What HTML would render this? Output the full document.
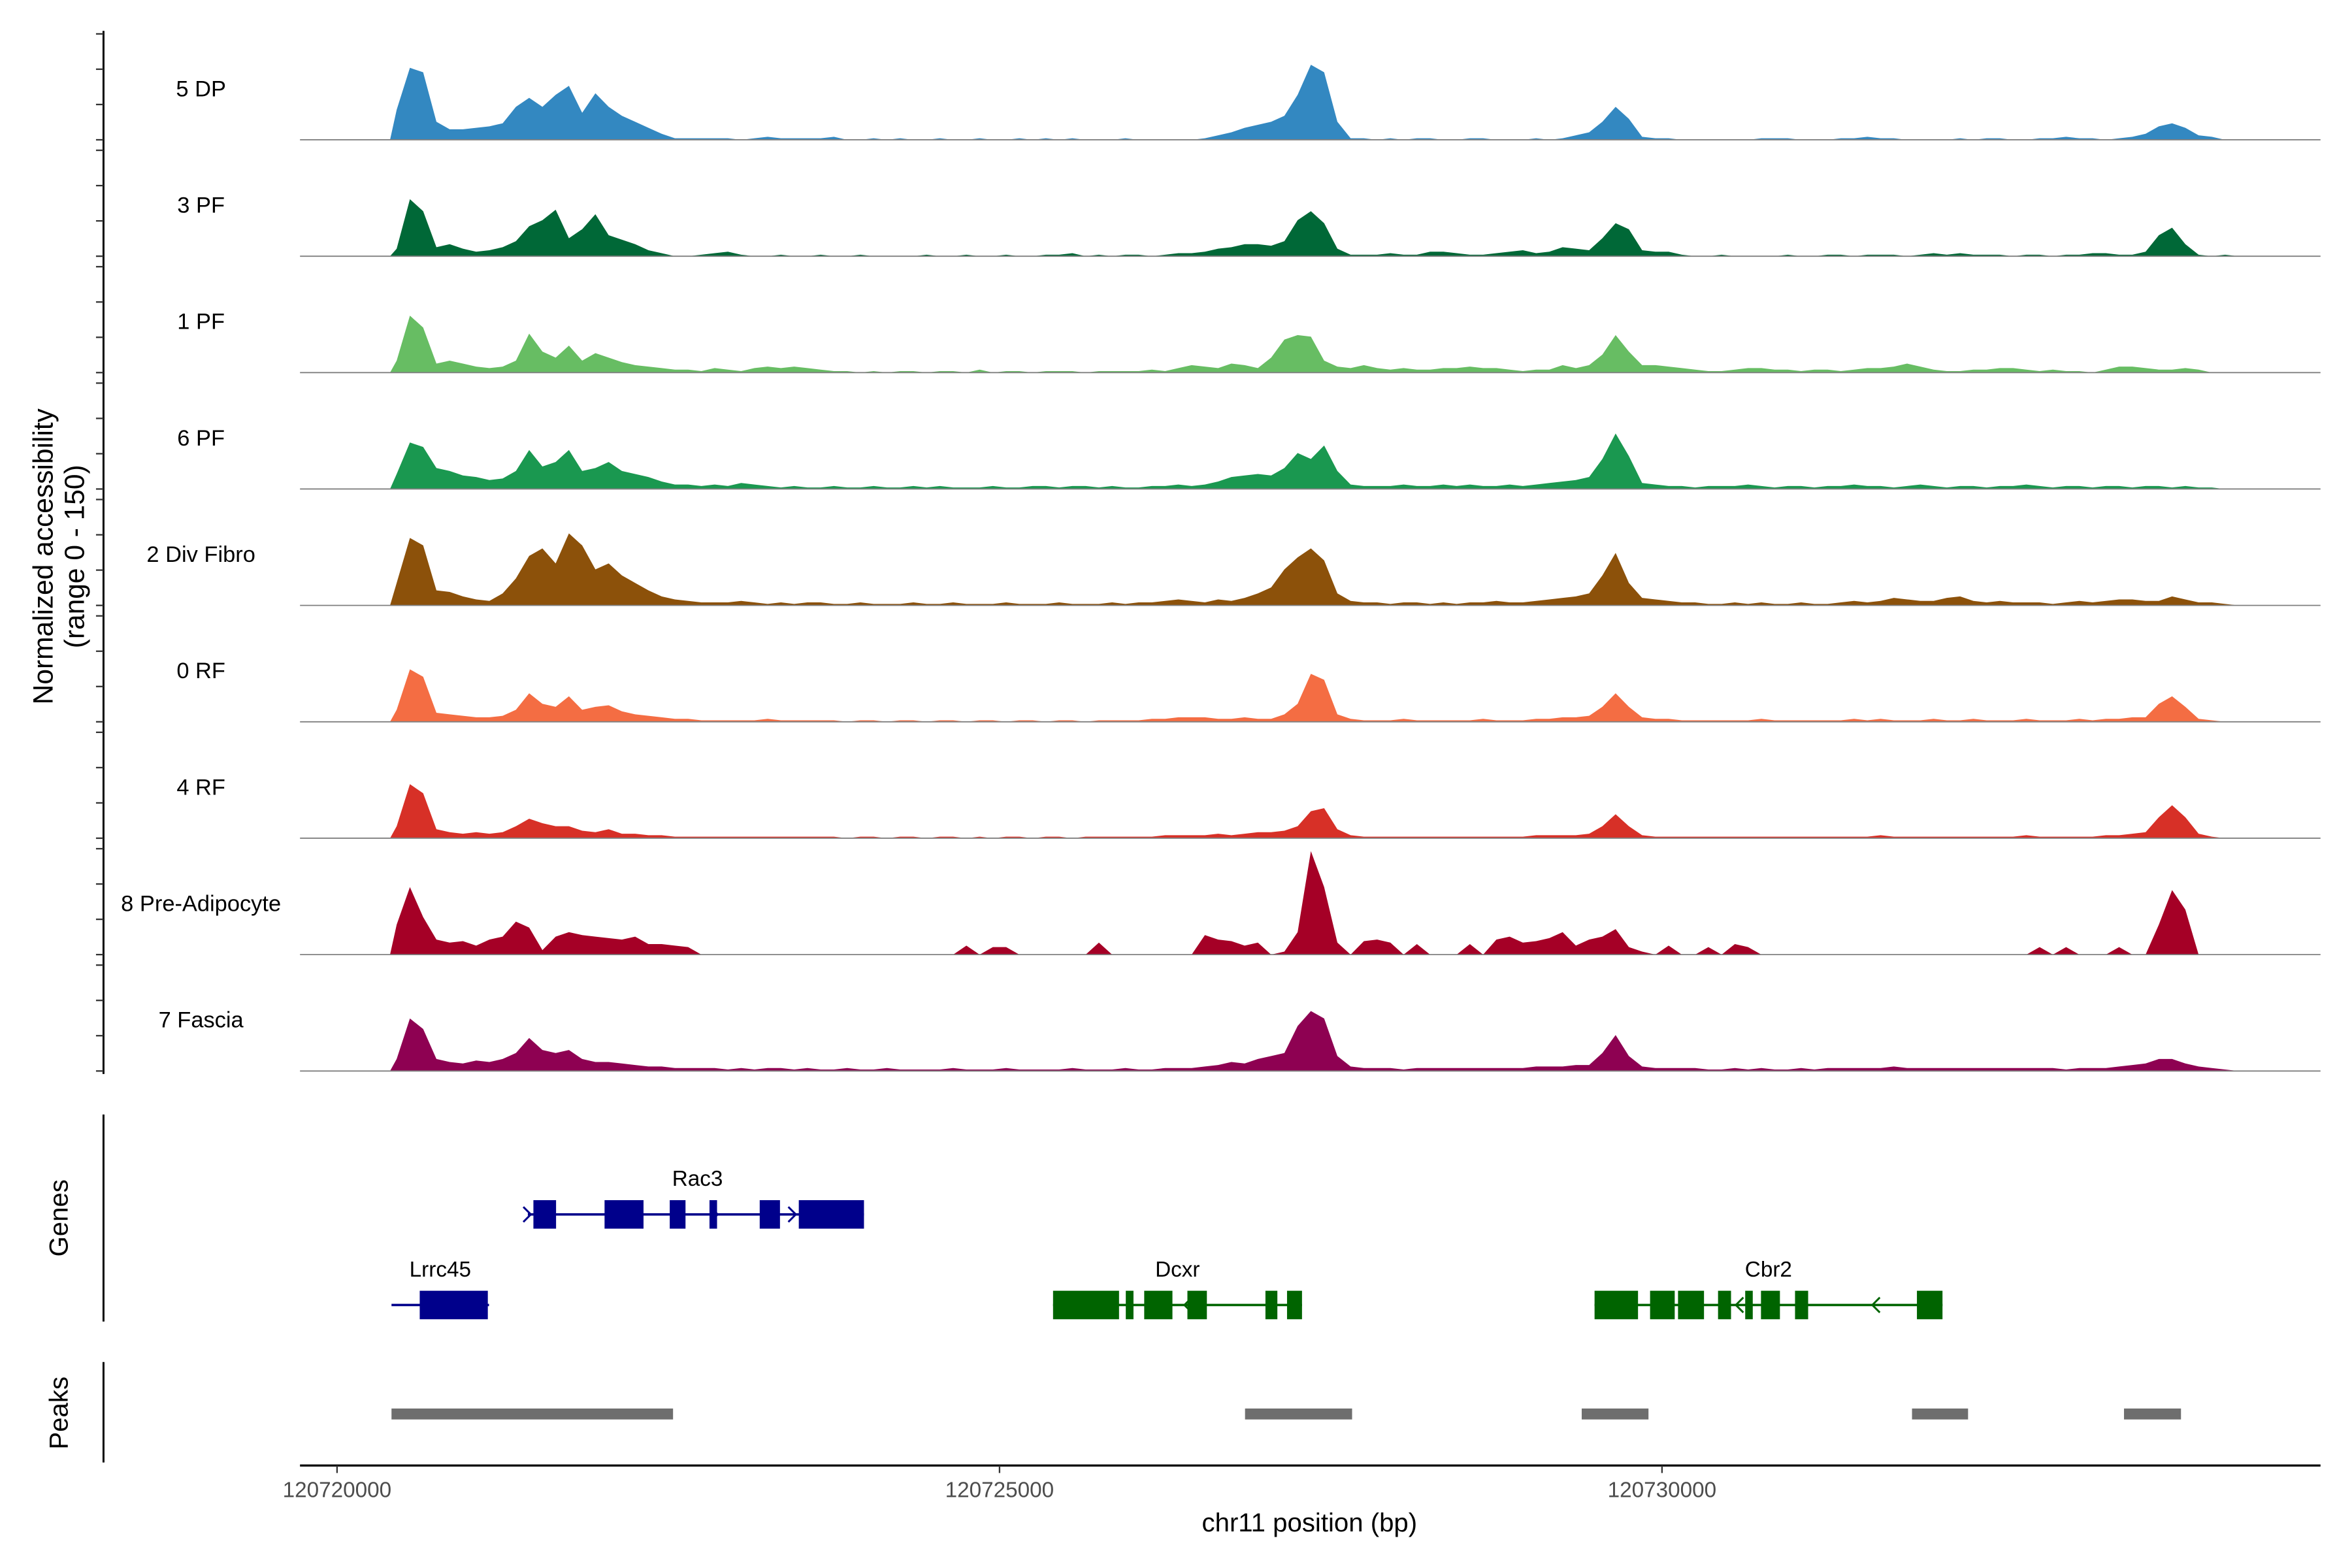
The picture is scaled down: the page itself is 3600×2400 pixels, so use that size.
<!DOCTYPE html>
<html><head><meta charset="utf-8"><title>Coverage plot</title>
<style>html,body{margin:0;padding:0;background:#fff;}svg{display:block;}</style></head>
<body>
<svg id="chart" xmlns="http://www.w3.org/2000/svg" width="3600" height="2400" viewBox="0 0 1568 1045.33" preserveAspectRatio="none" font-family="'Liberation Sans', sans-serif">
<rect width="1568" height="1046" fill="#fff"/>
<g id="tracks"></g>
<g id="yaxis"></g>
<text transform="translate(35,371) rotate(-90)" text-anchor="middle" font-size="18.5" fill="#000">Normalized accessibility</text>
<text transform="translate(56,371) rotate(-90)" text-anchor="middle" font-size="18.5" fill="#000">(range 0 - 150)</text>
<g id="genes"></g>
<line x1="69" y1="743" x2="69" y2="881" stroke="#000" stroke-width="1.3"/>
<text transform="translate(45,812) rotate(-90)" text-anchor="middle" font-size="17.5">Genes</text>
<g id="peaks"></g>
<line x1="69" y1="908" x2="69" y2="975" stroke="#000" stroke-width="1.3"/>
<text transform="translate(45,942) rotate(-90)" text-anchor="middle" font-size="17.5">Peaks</text>
<g id="xaxis"></g>
<text x="873" y="1021" text-anchor="middle" font-size="17.5">chr11 position (bp)</text>
</svg>
<script>
const NS = 'http://www.w3.org/2000/svg';
const binStart = 120720400;
const binSize = 100;
const trackNames = ['5 DP','3 PF','1 PF','6 PF','2 Div Fibro','0 RF','4 RF','8 Pre-Adipocyte','7 Fascia'];
const trackColors = ['#3388c1','#006837','#67bd63','#1a9850','#8c510a','#f46d43','#d73027','#a50026','#8e0152'];
const cov5DP = [20,48,45,12,7,7,8,9,11,22, 28,22,30,36,18,31,22,16,12,8, 4,1,1,1,1,1,0,1,2,1, 1,1,1,2,0,0,1,0,1,0, 0,1,0,0,1,0,0,1,0,1, 0,1,0,0,0,1,0,0,0,0, 0,1,3,5,8,10,12,16,30,50, 45,12,1,1,0,1,0,1,1,0, 0,1,1,0,0,0,1,0,1,3, 5,12,22,14,2,1,1,0,0,0, 0,0,0,1,1,1,0,0,0,1, 1,2,1,1,0,0,0,0,1,0, 1,1,0,0,1,1,2,1,1,0, 1,2,4,9,11,8,3,2,0,0];
const cov3PF = [5,38,30,6,8,5,3,4,6,10, 20,24,31,12,18,28,14,11,8,4, 2,0,0,1,2,3,1,0,0,1, 0,0,1,0,0,1,0,0,0,0, 1,0,0,1,0,0,1,0,0,1, 1,2,0,1,0,1,1,0,1,2, 2,3,5,6,8,8,7,10,24,30, 22,5,1,1,1,2,1,1,3,3, 2,1,1,2,3,4,2,3,6,5, 4,12,22,18,4,3,3,1,0,0, 1,0,0,0,0,1,0,0,1,1, 0,1,1,1,0,1,2,1,2,1, 1,1,0,1,1,0,1,1,2,2, 1,1,3,14,19,8,1,0,1,0];
const cov1PF = [8,38,30,6,8,6,4,3,4,8, 26,14,10,18,8,13,10,7,5,4, 3,2,2,1,3,2,1,3,4,3, 4,3,2,1,1,0,1,0,1,1, 0,1,1,0,2,0,1,1,0,1, 1,1,0,1,1,1,1,2,1,3, 5,4,3,6,5,3,10,22,25,24, 8,4,3,5,3,2,3,2,2,3, 3,4,3,3,2,1,2,2,5,3, 5,12,25,14,5,5,4,3,2,1, 1,2,3,3,2,2,1,2,2,1, 2,3,3,4,6,4,2,1,1,2, 2,3,3,2,1,2,1,1,0,2, 4,4,3,2,2,3,2,0,0,0];
const cov6PF = [10,31,28,14,12,9,8,6,7,12, 26,15,18,26,12,14,18,12,10,8, 5,3,3,2,3,2,4,3,2,1, 2,1,1,2,1,1,2,1,1,2, 1,2,1,1,1,2,1,1,2,2, 1,2,2,1,2,1,1,2,2,3, 2,3,5,8,9,10,9,14,24,20, 29,12,3,2,2,2,3,2,2,3, 2,3,2,2,3,2,3,4,5,6, 8,20,37,22,4,3,2,2,1,2, 2,2,3,2,1,2,2,1,2,2, 3,2,2,1,2,3,2,1,2,2, 1,2,2,3,2,1,2,2,1,2, 2,1,2,2,1,2,1,1,0,0];
const cov2Div = [15,45,40,10,9,6,4,3,8,18, 33,38,28,48,40,24,28,20,15,10, 6,4,3,2,2,2,3,2,1,2, 1,2,2,1,1,2,1,1,1,2, 1,1,2,1,1,1,2,1,1,1, 2,1,1,1,2,1,2,2,3,4, 3,2,4,3,5,8,12,24,32,38, 30,8,3,2,2,1,2,2,1,2, 1,2,2,3,2,2,3,4,5,6, 8,20,35,15,5,4,3,2,2,1, 1,2,1,2,1,1,2,1,1,2, 3,2,3,5,4,3,3,5,6,3, 2,3,2,2,2,1,2,3,2,3, 4,4,3,3,6,4,2,2,1,0];
const cov0RF = [8,35,30,6,5,4,3,3,4,8, 19,12,10,17,8,10,11,7,5,4, 3,2,2,1,1,1,1,1,2,1, 1,1,1,1,0,1,1,0,1,1, 0,1,1,0,1,1,0,1,1,0, 1,1,0,1,1,1,1,2,2,3, 3,3,2,2,3,2,2,5,12,32, 28,5,2,1,1,1,2,1,1,1, 1,1,2,1,1,1,2,2,3,3, 4,10,19,10,3,2,2,1,1,1, 1,1,1,2,1,1,1,1,1,1, 2,1,2,1,1,1,2,1,1,2, 1,1,1,2,1,1,1,2,1,2, 2,3,3,12,17,10,2,1,0,0];
const cov4RF = [8,36,30,6,4,3,4,3,4,8, 13,10,8,8,5,4,6,3,3,2, 2,1,1,1,1,1,1,1,1,1, 1,1,1,1,0,1,1,0,1,1, 0,1,1,0,1,0,1,1,0,1, 1,0,1,1,1,1,1,1,2,2, 2,2,3,2,3,4,4,5,8,18, 20,6,2,1,1,1,1,1,1,1, 1,1,1,1,1,1,2,2,2,2, 3,8,16,8,2,1,1,1,1,1, 1,1,1,1,1,1,1,1,1,1, 1,1,2,1,1,1,1,1,1,1, 1,1,1,2,1,1,1,1,1,2, 2,3,4,14,22,14,3,1,0,0];
const cov8Pre = [20,45,25,10,8,9,6,10,12,22, 18,3,12,15,13,12,11,10,12,7, 7,6,5,0,0,0,0,0,0,0, 0,0,0,0,0,0,0,0,0,0, 0,0,0,6,0,5,5,0,0,0, 0,0,0,8,0,0,0,0,0,0, 0,13,10,9,6,8,0,2,15,69, 45,8,0,9,10,8,0,7,0,0, 0,7,0,10,12,8,9,11,15,6, 10,12,17,5,2,0,6,0,0,5, 0,7,5,0,0,0,0,0,0,0, 0,0,0,0,0,0,0,0,0,0, 0,0,0,0,5,0,5,0,0,0, 5,0,0,20,43,30,0,0,0,0];
const cov7Fascia = [8,35,28,8,6,5,7,6,8,12, 22,14,12,14,8,6,6,5,4,3, 3,2,2,2,2,1,2,1,2,2, 1,2,1,1,2,1,1,2,1,1, 1,1,2,1,1,1,2,1,1,1, 1,2,1,1,1,2,1,1,2,2, 2,3,4,6,5,8,10,12,30,40, 35,10,3,2,2,2,1,2,2,2, 2,2,2,2,2,2,3,3,3,4, 4,12,24,10,3,2,2,2,2,1, 1,2,1,2,1,1,2,1,2,2, 2,2,2,3,2,2,2,2,2,2, 2,2,2,2,2,2,1,2,2,2, 3,4,5,8,8,5,3,2,1,0];
const coverage = [cov5DP,cov3PF,cov1PF,cov6PF,cov2Div,cov0RF,cov4RF,cov8Pre,cov7Fascia];
const xTicks = [120720000,120725000,120730000];
const rac3Exons = [[120721482,120721653],[120722019,120722313],[120722511,120722630],[120722811,120722868],[120723190,120723343],[120723485,120723977]];
const lrrc45Exons = [[120720624,120721138]];
const dcxrExons = [[120725404,120725902],[120725953,120726011],[120726092,120726305],[120726418,120726565],[120727007,120727097],[120727170,120727283]];
const cbr2Exons = [[120729491,120729819],[120729910,120730096],[120730121,120730317],[120730423,120730521],[120730628,120730685],[120730747,120730890],[120731004,120731103],[120731924,120732117]];
const peakStarts = [120720411,120726853,120729394,120731887,120733487];
const peakEnds = [120722536,120727661,120729898,120732310,120733917];

const X0 = 224.7, XK = 0.08833;
function xs(pos){ return X0 + (pos - 120720000) * XK; }
const trackHeight = 70.6, yMaxUnits = 70.6;
function ys(v){ return v / yMaxUnits * trackHeight; }
function baseline(k){ return 93.2 + 77.6 * k; }

function mk(tag, attrs, parent){ const e = document.createElementNS(NS, tag); for (const k in attrs) e.setAttribute(k, attrs[k]); parent.appendChild(e); return e; }

const tg = document.getElementById('tracks');
coverage.forEach((vals, k) => {
  const b = baseline(k);
  let d = 'M' + xs(binStart).toFixed(2) + ',' + b;
  vals.forEach((v, i) => {
    const xc = xs(binStart + (i + 0.5) * binSize);
    d += ' L' + xc.toFixed(2) + ',' + (b - ys(v)).toFixed(2);
  });
  d += ' L' + xs(binStart + vals.length * binSize).toFixed(2) + ',' + b + ' Z';
  const p = mk('path', {d: d, fill: trackColors[k]}, tg);
  
  
  const ln = mk('line', {x1: 200, x2: 1547, y1: b, y2: b, stroke: '#808080', 'stroke-width': 0.8}, tg);
  
  
  const t = mk('text', {x: 134, y: b - 29, 'text-anchor': 'middle', 'font-size': 15, fill: '#000'}, tg);
  t.textContent = trackNames[k];
  
  
});

const ya = document.getElementById('yaxis');
const axl = mk('line', {x1: 69, x2: 69, y1: baseline(0) - trackHeight - 2, y2: baseline(8) + 2, stroke: '#000', 'stroke-width': 1.3}, ya);


for (let k = 0; k < 9; k++) {
  for (let j = 0; j < 4; j++) {
    const y = baseline(k) - j * trackHeight / 3;
    const tk = mk('line', {x1: 64, x2: 69, y1: y, y2: y, stroke: '#333', 'stroke-width': 1}, ya);
    
    
  }
}

const gg = document.getElementById('genes');
function drawGene(name, exons, start, end, yc, color, dir, arrowsPos, labelX){
  const g = mk('g', {}, gg);
  
  
  mk('line', {x1: xs(start), x2: xs(end), y1: yc, y2: yc, stroke: color, 'stroke-width': 1.6}, g);
  exons.forEach(e => { mk('rect', {x: xs(e[0]), y: yc - 9.5, width: xs(e[1]) - xs(e[0]), height: 19, fill: color}, g); });
  arrowsPos.forEach(ap => {
    const x = xs(ap), s = dir > 0 ? 1 : -1;
    mk('path', {d: 'M' + (x - 3 * s) + ',' + (yc - 5) + ' L' + (x + 2 * s) + ',' + yc + ' L' + (x - 3 * s) + ',' + (yc + 5), fill: 'none', stroke: color, 'stroke-width': 1.3}, g);
  });
  const t = mk('text', {x: labelX, y: yc - 19, 'text-anchor': 'middle', 'font-size': 14.5}, g);
  t.textContent = name;
  
  
}
drawGene('Rac3', rac3Exons, 120721440, 120723977, 809.6, '#00008b', 1, [120721440, 120722850, 120723440], 465);
drawGene('Lrrc45', lrrc45Exons, 120720411, 120721147, 870, '#00008b', 1, [], 293.5);
drawGene('Dcxr', dcxrExons, 120725404, 120727283, 870, '#006400', -1, [120726418], 785);
drawGene('Cbr2', cbr2Exons, 120729491, 120732117, 870, '#006400', -1, [120730580, 120731610], 1179);

const pg = document.getElementById('peaks');
peakStarts.forEach((s, i) => {
  const r = mk('rect', {x: xs(s), y: 939, width: xs(peakEnds[i]) - xs(s), height: 7.3, fill: '#6e6e6e'}, pg);
  
  
});

const xa = document.getElementById('xaxis');
const xl = mk('line', {x1: 200, x2: 1547, y1: 977, y2: 977, stroke: '#000', 'stroke-width': 1.4}, xa);


xTicks.forEach(v => {
  const x = xs(v);
  const tk = mk('line', {x1: x, x2: x, y1: 977, y2: 982, stroke: '#333', 'stroke-width': 1}, xa);
  
  
  const t = mk('text', {x: x, y: 998, 'text-anchor': 'middle', 'font-size': 14.5, fill: '#4d4d4d'}, xa);
  t.textContent = String(v);
  
  
});
</script>
</body></html>
